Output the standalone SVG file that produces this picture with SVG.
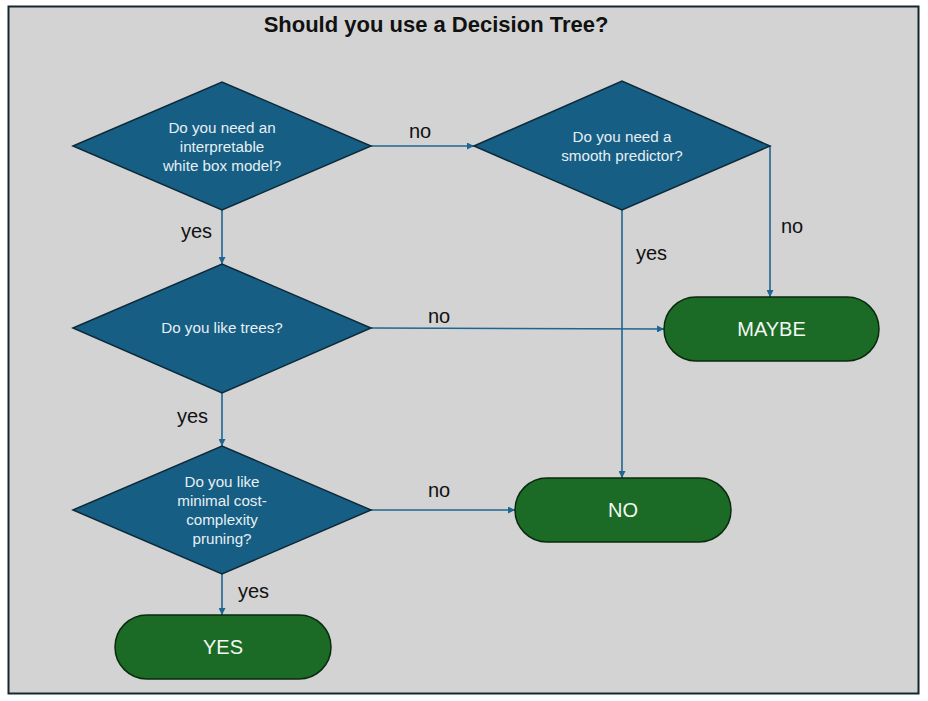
<svg xmlns="http://www.w3.org/2000/svg" width="928" height="701" viewBox="0 0 928 701">
<defs>
<marker id="arr" viewBox="0 0 10 10" refX="10" refY="5" markerWidth="7" markerHeight="7" markerUnits="userSpaceOnUse" orient="auto">
<path d="M0,0 L10,5 L0,10 z" fill="#1f6591"/>
</marker>
<style>
.dia{fill:#165e83;stroke:#0e2a3a;stroke-width:1.5}
.term{fill:#1b6b26;stroke:#0a2a0f;stroke-width:1.5}
.dt{font-family:"Liberation Sans",Arial,sans-serif;font-size:15.2px;fill:#e6eff4;text-anchor:middle}
.tt{font-family:"Liberation Sans",Arial,sans-serif;font-size:20px;fill:#f2f7f2;text-anchor:middle}
.lbl{font-family:"Liberation Sans",Arial,sans-serif;font-size:20px;fill:#111}
.con{fill:none;stroke:#1f6591;stroke-width:1.6;marker-end:url(#arr)}
</style>
</defs>
<rect x="8.5" y="6.5" width="910" height="687" fill="#d3d3d3" stroke="#15262f" stroke-width="2"/>
<text x="436" y="32" font-family="'Liberation Sans',Arial,sans-serif" font-size="22" font-weight="bold" fill="#111" text-anchor="middle">Should you use a Decision Tree?</text>
<g id="connectors">
<path class="con" d="M371,146 L474,146"/>
<path class="con" d="M222,210 L222,264"/>
<path class="con" d="M770,146 L770,297"/>
<path class="con" d="M622,210 L622,478"/>
<path class="con" d="M371,328 L664,329"/>
<path class="con" d="M222,393 L222,446"/>
<path class="con" d="M371,510 L515,510"/>
<path class="con" d="M222,574 L222,615"/>
<text class="lbl" x="409" y="138">no</text>
<text class="lbl" x="181" y="238">yes</text>
<text class="lbl" x="781" y="233">no</text>
<text class="lbl" x="636" y="260">yes</text>
<text class="lbl" x="428" y="323">no</text>
<text class="lbl" x="177" y="423">yes</text>
<text class="lbl" x="428" y="497">no</text>
<text class="lbl" x="238" y="598">yes</text>
</g>
<g id="d1">
<polygon class="dia" points="73,146 222,82 371,146 222,210"/>
<text class="dt" x="222" y="133">Do you need an</text>
<text class="dt" x="222" y="152">interpretable</text>
<text class="dt" x="222" y="171">white box model?</text>
</g>
<g id="d2">
<polygon class="dia" points="474,146 622,81 770,146 622,210"/>
<text class="dt" x="622" y="142">Do you need a</text>
<text class="dt" x="622" y="161">smooth predictor?</text>
</g>
<g id="d3">
<polygon class="dia" points="73,328 222,264 371,328 222,393"/>
<text class="dt" x="222" y="333">Do you like trees?</text>
</g>
<g id="d4">
<polygon class="dia" points="73,510 222,446 371,510 222,574"/>
<text class="dt" x="222" y="487">Do you like</text>
<text class="dt" x="222" y="506">minimal cost-</text>
<text class="dt" x="222" y="525">complexity</text>
<text class="dt" x="222" y="544">pruning?</text>
</g>
<g id="maybe">
<rect class="term" x="664" y="297" width="215" height="64" rx="32" ry="32"/>
<text class="tt" x="771.5" y="336">MAYBE</text>
</g>
<g id="no">
<rect class="term" x="515" y="478" width="216" height="64" rx="32" ry="32"/>
<text class="tt" x="623" y="517">NO</text>
</g>
<g id="yes">
<rect class="term" x="115" y="615" width="216" height="64" rx="32" ry="32"/>
<text class="tt" x="223" y="654">YES</text>
</g>
</svg>
